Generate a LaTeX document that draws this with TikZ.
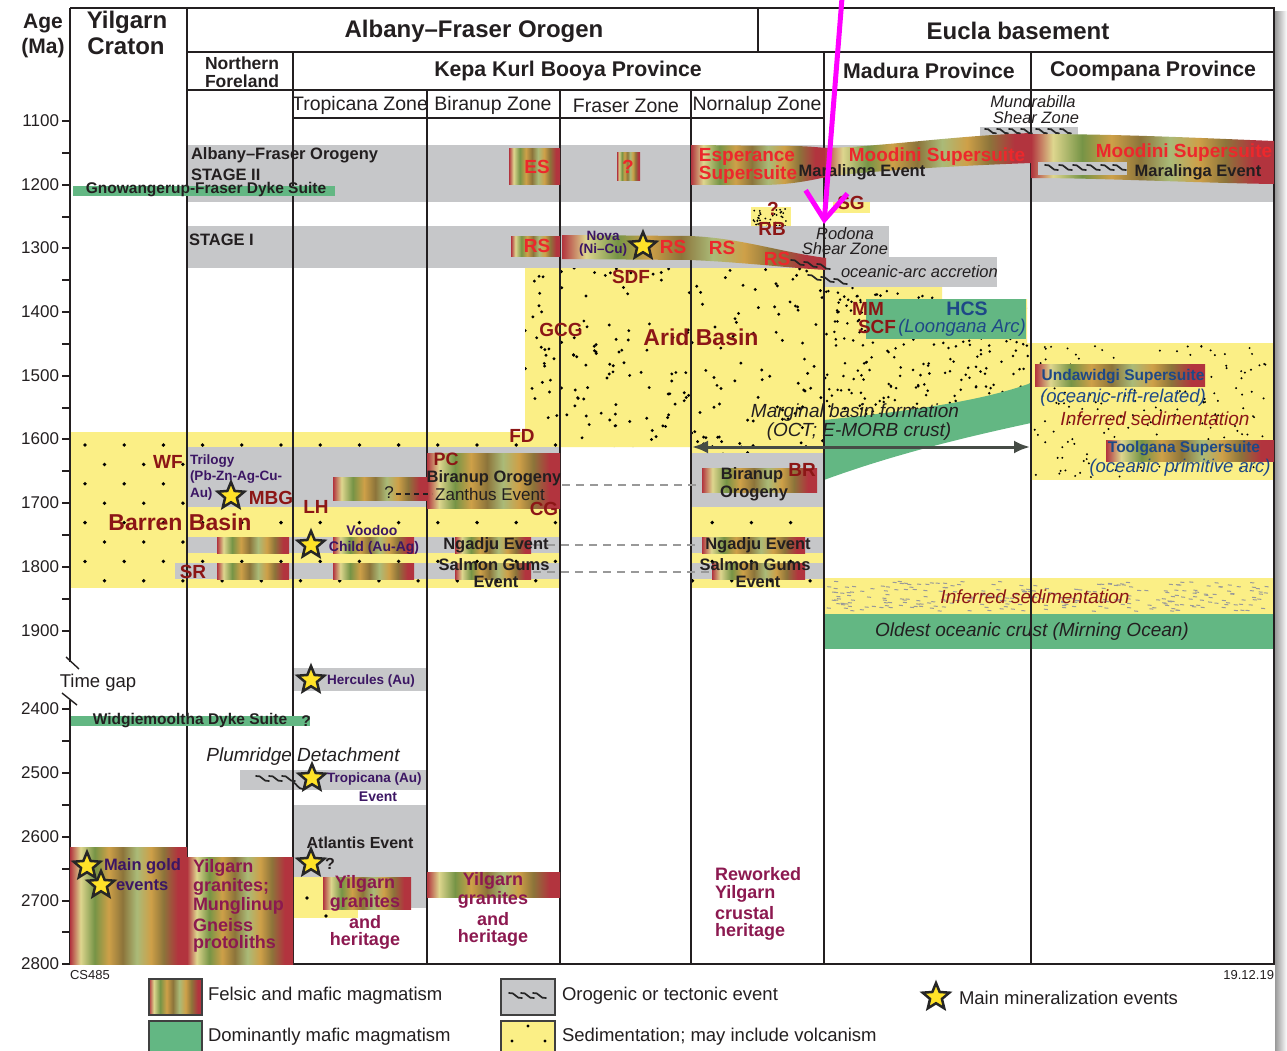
\documentclass[tikz,border=0pt]{standalone}
\usepackage{fontspec}
\setmainfont{Liberation Sans}
\usetikzlibrary{shapes.geometric,arrows.meta}
\definecolor{gfill}{RGB}{198,199,201}
\definecolor{yfill}{RGB}{251,239,134}
\definecolor{gfl}{RGB}{99,183,131}
\definecolor{dred}{RGB}{140,22,22}
\definecolor{bred}{RGB}{236,40,44}
\definecolor{purp}{RGB}{60,22,100}
\definecolor{navy}{RGB}{30,72,135}
\definecolor{maroon}{RGB}{140,25,80}
\definecolor{txt}{RGB}{35,31,32}
\definecolor{arrg}{RGB}{70,76,70}
\definecolor{stary}{RGB}{255,226,40}
\definecolor{magn}{RGB}{255,0,255}
\definecolor{mgR}{RGB}{178,52,62}
\definecolor{mgP}{RGB}{222,214,142}
\definecolor{mgG}{RGB}{118,148,70}
\definecolor{mgO}{RGB}{206,160,72}
\definecolor{mgB}{RGB}{140,116,58}
\definecolor{mgL}{RGB}{170,186,120}
\pgfdeclarehorizontalshading{magma}{100bp}{color(0bp)=(mgR); color(25bp)=(mgR); color(29.5bp)=(mgP); color(35.5bp)=(mgG); color(41.5bp)=(mgO); color(47.5bp)=(mgB); color(53.5bp)=(mgL); color(59.5bp)=(mgO); color(65bp)=(mgB); color(71bp)=(mgR); color(75bp)=(mgR); color(100bp)=(mgR)}
\newcommand\myfs[1]{\fontsize{#1}{#1}\selectfont}
\tikzset{
 every node/.style={inner sep=0pt, outer sep=0pt, text=txt},
 fb/.style={font=\bfseries\myfs{#1}},
 fr/.style={font=\myfs{#1}},
 fi/.style={font=\itshape\myfs{#1}},
 colline/.style={line width=1.4, draw=txt},
 framel/.style={line width=2, draw=txt},
 magmab/.style={shade, shading=magma},
 mstar/.style={star, star points=5, star point ratio=2.25, minimum size=28, fill=stary, draw=black!85, line width=2.5},
 dashl/.style={draw=black!40, line width=2.5, dash pattern=on 8 off 6},
 legbox/.style={draw=black!75, line width=1.6},
 pics/tw/.style={code={\draw[line width=1.7, black!85, line cap=round] (0,0) .. controls (6,-1.5) and (7,6.5) .. (13,5);}},
}
\begin{document}
\begin{tikzpicture}[x=1pt,y=-1pt]
\useasboundingbox (0,0) rectangle (1287,1051);
\fill[white] (0,0) rectangle (1287,1051);
\shade[left color=black!40, right color=white] (1275,12) rectangle (1287,1051);

% ===== sediments
\fill[yfill] (70,432) rectangle (560,588);
\fill[yfill] (691,507) rectangle (824,588);
\fill[yfill] (525,268) -- (824,268) -- (824,455) -- (691,455) -- (691,447) -- (525,447) -- cycle;
\fill[yfill] (824,287) -- (942,287) -- (942,299) -- (1027,299) -- (1027,343) -- (1031,343) -- (1031,410) -- (824,450) -- cycle;
\fill[yfill] (1031,343) rectangle (1274,480);
\fill[yfill] (824,578) rectangle (1274,614);
\fill[yfill] (751,207) rectangle (791,246);
\fill[yfill] (833,193) rectangle (870,213);

% grid dots (Barren Basin)
\begin{scope}
 \clip (70,432) rectangle (560,588) (691,507) rectangle (824,588);
 \foreach \r in {0,...,7}{
   \pgfmathsetmacro\yy{445+19.4*\r}
   \pgfmathsetmacro\xo{mod(\r,2)*19.5}
   \foreach \c in {0,...,19}{\fill (85+\xo+39.2*\c,\yy) circle (1.9);}
 }
\end{scope}
\pgfmathsetseed{4242}
\begin{scope}
 \clip (525,268) -- (824,268) -- (824,455) -- (691,455) -- (691,447) -- (525,447) -- cycle;
 \foreach \i in {1,...,200}{
   \pgfmathsetmacro\xx{525+300*rnd}\pgfmathsetmacro\yy{268+187*rnd}
   \fill (\xx,\yy) circle (1.6);}
\end{scope}
\begin{scope}
 \clip (824,287) -- (942,287) -- (942,299) -- (1027,299) -- (1027,343) -- (1031,343) -- (1031,410) -- (824,450) -- cycle;
 \foreach \i in {1,...,300}{
   \pgfmathsetmacro\xx{824+207*rnd}\pgfmathsetmacro\yy{287+165*rnd}
   \fill (\xx,\yy) circle (1.4);}
\end{scope}
\foreach \i in {1,...,160}{
   \pgfmathsetmacro\xx{1034+238*rnd}\pgfmathsetmacro\yy{346+132*rnd}
   \fill (\xx,\yy) circle (1.1);}
\foreach \i in {1,...,70}{
   \pgfmathsetmacro\xx{753+36*rnd}\pgfmathsetmacro\yy{209+35*rnd}
   \fill (\xx,\yy) circle (1.0);}
\foreach \i in {1,...,260}{
   \pgfmathsetmacro\xx{826+442*rnd}\pgfmathsetmacro\yy{581+30*rnd}
   \draw[black!40, line width=1] (\xx,\yy) -- ++(4,0.4);}

% ===== grey event bands
\fill[gfill] (187,145) rectangle (1274,202);
\fill[gfill] (187,226) rectangle (824,268);
\fill[gfill] (824,226) rectangle (889,257);
\fill[gfill] (824,257) rectangle (997,287);
\fill[gfill] (980,127) rectangle (1078,138);
\fill[gfill] (187,447) rectangle (560,507);
\fill[gfill] (187,537) rectangle (560,553);
\fill[gfill] (175,563) rectangle (560,579);
\fill[gfill] (691,453) rectangle (824,507);
\fill[gfill] (691,537) rectangle (824,553);
\fill[gfill] (691,563) rectangle (824,579);
\fill[gfill] (293,668) rectangle (427,691);
\fill[gfill] (240,770) rectangle (427,790);
\fill[gfill] (293,805) rectangle (427,908);
\fill[yfill] (293,877) rectangle (358,918);
\fill (307,898) circle (1.8);
\fill (326,916) circle (1.8);

% ===== green (mafic)
\fill[gfl] (866,299) rectangle (1026,339);
\fill[gfl] (824,420) .. controls (900,412) and (980,402) .. (1031,383) -- (1031,423) .. controls (980,434) and (900,452) .. (824,480) -- cycle;
\fill[gfl] (824,614) rectangle (1274,649);

% ===== frame and column lines
\draw[framel] (70,8) -- (1274,8) -- (1274,964) -- (70,964);
\draw[framel] (70,8) -- (70,662);
\draw[framel] (70,700) -- (70,964);
\draw[colline] (187,8) -- (187,964);
\draw[colline] (187,52) -- (1274,52);
\draw[colline] (758,8) -- (758,52);
\draw[colline] (187,90) -- (1274,90);
\draw[colline] (293,52) -- (293,964);
\draw[colline] (293,118) -- (824,118);
\foreach \xx in {427,560,691} \draw[colline] (\xx,90) -- (\xx,964);
\draw[colline] (824,52) -- (824,964);
\draw[colline] (1031,52) -- (1031,964);
\foreach \yy in {121,153,185,217,248,280,312,344,376,408,439,471,503,535,567,599,631,709,741,773,805,837,869,901,932,964}
  \draw[line width=1.4, txt] (62,\yy) -- (70,\yy);
\draw[line width=1.4, txt] (66,657) -- (79,669);
\draw[line width=1.4, txt] (62,693) -- (77,705);

% ===== magmatism
\path[magmab] (509,149) rectangle (560,185);
\path[magmab] (617,153) rectangle (640,181);
\path[magmab] (691,145) -- (790,146) .. controls (805,146) and (815,147) .. (826,148) -- (826,177) .. controls (800,183) and (780,185) .. (760,185) -- (691,185) -- cycle;
\path[magmab] (824,148) .. controls (880,147) and (950,136) .. (1031,133) -- (1031,163) .. controls (950,166) and (870,171) .. (824,177) -- cycle;
\path[magmab] (1031,134) .. controls (1120,134) and (1200,138) .. (1274,141) -- (1274,184) .. controls (1200,183) and (1100,178) .. (1031,178) -- cycle;
\fill[gfill] (1038,162) rectangle (1127,175);
\path[magmab] (511,236) rectangle (560,256);
\path[magmab] (562,235) -- (690,236) .. controls (740,238) and (780,252) .. (826,258) -- (826,270) .. controls (790,268) and (740,262) .. (690,260) -- (562,259) -- cycle;
\path[magmab] (427,453) rectangle (560,508);
\path[magmab] (333,477) rectangle (427,500);
\path[magmab] (217,537) rectangle (289,553);
\path[magmab] (217,563) rectangle (289,579);
\path[magmab] (333,537) rectangle (414,553);
\path[magmab] (333,563) rectangle (414,579);
\path[magmab] (455,537) rectangle (531,553);
\path[magmab] (455,563) rectangle (531,579);
\path[magmab] (702,468) rectangle (817,492);
\path[magmab] (702,537) rectangle (805,553);
\path[magmab] (712,563) rectangle (805,579);
\path[magmab] (1035,364) rectangle (1205,386);
\path[magmab] (1106,440) rectangle (1274,461);
\path[magmab] (70,847) rectangle (187,964);
\path[magmab] (187,857) rectangle (293,964);
\path[magmab] (323,877) rectangle (411,909);
\path[magmab] (427,872) rectangle (560,897);

% dyke suites
\fill[gfl] (73,186) rectangle (335,196);
\fill[gfl] (71,716) rectangle (310,726);

% tectonic waves
\foreach \xx in {985,997,1009,1021,1036,1048,1060} \pic[scale=0.85] at (\xx,129) {tw};
\foreach \xx in {1045,1059,1073,1087,1101,1113} \pic at (\xx,165) {tw};
\foreach \xx/\yy in {791/260,804/262,817/264,808/275,821/277,834/279} \pic at (\xx,\yy) {tw};
\foreach \xx in {256,269,282} \pic at (\xx,776) {tw};
\draw[line width=1.7, black!85, line cap=round] (293,782) .. controls (297,784) and (298,789) .. (303,789);

% ===== connectors
\draw[dashl] (562,485) -- (700,485);
\draw[dashl] (533,545) -- (700,545);
\draw[dashl] (533,572) -- (710,572);
\draw[txt, line width=1.3, dash pattern=on 5 off 4] (396,494) -- (432,494);
\coordinate (arL) at (692,447);
\coordinate (arR) at (1030,447);
\draw[arrg, line width=3, {Latex[length=16,width=13]}-{Latex[length=16,width=13]}] (arL) -- (arR);

% ===== stars
\node[mstar] (s1) at (231,496) {};
\node[mstar] (s2) at (311,545) {};
\node[mstar] (s3) at (643,246) {};
\node[mstar] (s4) at (311,680) {};
\node[mstar] (s5) at (312,778) {};
\node[mstar] (s6) at (311,863) {};
\node[mstar] (s7) at (87,866) {};
\node[mstar] (s8) at (101,885) {};

% ===== header text
\node[fb=21] (age1) at (43,24) {Age};
\node[fb=21] (age2) at (43,48) {(Ma)};
\node[fb=24] (yc1) at (127,22) {Yilgarn};
\node[fb=24] (yc2) at (126,46) {Craton};
\node[fb=24] (afo) at (474,31) {Albany–Fraser Orogen};
\node[fb=24] (eb) at (1018,31) {Eucla basement};
\node[fb=17.5] (nf1) at (242,63) {Northern};
\node[fb=17.5] (nf2) at (242,81) {Foreland};
\node[fb=21.3] (kkb) at (568,71) {Kepa Kurl Booya Province};
\node[fb=21.3] (mad) at (929,71) {Madura Province};
\node[fb=21.3] (coo) at (1153,71) {Coompana Province};
\node[fr=19.5] (z1) at (360,105) {Tropicana Zone};
\node[fr=19.5] (z2) at (493,105) {Biranup Zone};
\node[fr=19.5] (z3) at (626,106) {Fraser Zone};
\node[fr=19.5] (z4) at (757,105) {Nornalup Zone};
\foreach \lab/\yy in {1100/121,1200/185,1300/248,1400/312,1500/376,1600/439,1700/503,1800/567,1900/631,2400/709,2500/773,2600/837,2700/901,2800/964}
  \node[fr=17, anchor=east] (t\lab) at (59,\yy) {\lab};
\node[fr=18.5] (tg) at (98,683) {Time gap};

% ===== upper labels
\node[fb=16.5, anchor=west] (afoy) at (191,155) {Albany–Fraser Orogeny};
\node[fb=16.5, anchor=west] (st2) at (191,175) {STAGE II};
\node[fb=16.5, anchor=west] (st1) at (189,240) {STAGE I};
\node[fb=15.5] (gfd) at (206,190) {Gnowangerup-Fraser Dyke Suite};
\node[fb=19, text=bred] (es) at (537,167) {ES};
\node[fb=19, text=bred] (fq) at (628,167) {?};
\node[fb=19, text=bred] (esp1) at (747,157) {Esperance};
\node[fb=19, text=bred] (esp2) at (748,175) {Supersuite};
\node[fb=19, text=bred] (moo1) at (937,157) {Moodini Supersuite};
\node[fb=16.5] (mar1) at (862,172) {Maralinga Event};
\node[fb=19, text=bred] (moo2) at (1184,153) {Moodini Supersuite};
\node[fb=16.5] (mar2) at (1198,172) {Maralinga Event};
\node[fi=16.5] (mun1) at (1033,102) {Mundrabilla};
\node[fi=16.5] (mun2) at (1036,118) {Shear Zone};
\node[fb=19, text=dred] (sg) at (851,203) {SG};
\node[fb=19, text=dred] (rbq) at (773,209) {?};
\node[fb=19, text=dred] (rb) at (772,229) {RB};
\node[fi=16.5] (rod1) at (845,234) {Rodona};
\node[fi=16.5] (rod2) at (845,249) {Shear Zone};
\node[fi=16.5, anchor=west] (oaa) at (841,272) {oceanic-arc accretion};
\node[fb=19, text=bred] (rs1) at (537,246) {RS};
\node[fb=13.5, text=purp] (nova1) at (603,236) {Nova};
\node[fb=13.5, text=purp] (nova2) at (603,250) {(Ni–Cu)};
\node[fb=19, text=bred] (rs2) at (673,247) {RS};
\node[fb=19, text=bred] (rs3) at (722,248) {RS};
\node[fb=19, text=bred] (rs4) at (777,259) {RS};
\node[fb=19, text=dred] (sdf) at (631,277) {SDF};
\node[fb=19, text=dred] (gcg) at (561,330) {GCG};
\node[fb=23, text=dred] (arid) at (701,337) {Arid Basin};
\node[fb=19, text=dred] (mm) at (868,309) {MM};
\node[fb=19, text=dred] (scf) at (877,327) {SCF};
\node[fb=19.5, text=navy] (hcs) at (967,309) {HCS};
\node[fi=18.5, text=navy] (loo) at (962,328) {(Loongana Arc)};
\node[fi=19] (mbf1) at (855,413) {Marginal basin formation};
\node[fi=19] (mbf2) at (859,432) {(OCT; E-MORB crust)};
\node[fb=15.5, text=navy] (und1) at (1123,377) {Undawidgi Supersuite};
\node[fi=18.5, text=navy] (und2) at (1123,398) {(oceanic-rift-related)};
\node[fi=19, text=dred] (inf1) at (1155,419) {Inferred sedimentation};
\node[fb=15.5, text=navy] (tool1) at (1184,449) {Toolgana Supersuite};
\node[fi=18.5, text=navy] (tool2) at (1180,468) {(oceanic primitive arc)};

% ===== middle labels
\node[fb=19, text=dred] (fd) at (522,436) {FD};
\node[fb=19, text=dred] (wf) at (168,462) {WF};
\node[fb=13.5, text=purp, anchor=west] (tri1) at (190,461) {Trilogy};
\node[fb=13.5, text=purp, anchor=west] (tri2) at (190,477) {(Pb-Zn-Ag-Cu-};
\node[fb=13.5, text=purp, anchor=west] (tri3) at (190,494) {Au)};
\node[fb=19, text=dred] (mbg) at (271,498) {MBG};
\node[fb=19, text=dred] (lh) at (316,507) {LH};
\node[fb=23, text=dred] (barren) at (180,522) {Barren Basin};
\node[fb=14, text=purp] (voo1) at (372,530) {Voodoo};
\node[fb=14, text=purp] (voo2) at (374,548) {Child (Au-Ag)};
\node[fb=19, text=dred] (sr) at (193,572) {SR};
\node[fr=17] (zq) at (389,493) {?};
\node[fr=17] (zan) at (490,494) {Zanthus Event};
\node[fb=18, text=dred] (pc) at (446,459) {PC};
\node[fb=16.5] (bo) at (494,478) {Biranup Orogeny};
\node[fb=19, text=dred] (cg) at (544,509) {CG};
\node[fb=16.5] (ng1) at (496,545) {Ngadju Event};
\node[fb=16.5] (sg1) at (494,565) {Salmon Gums};
\node[fb=16.5] (sg1b) at (496,582) {Event};
\node[fb=16.5] (bo2a) at (752,475) {Biranup};
\node[fb=16.5] (bo2b) at (754,493) {Orogeny};
\node[fb=19, text=dred] (br) at (802,470) {BR};
\node[fb=16.5] (ng2) at (758,545) {Ngadju Event};
\node[fb=16.5] (sg2) at (755,565) {Salmon Gums};
\node[fb=16.5] (sg2b) at (758,582) {Event};
\node[fi=19, text=dred] (inf2) at (1035,597) {Inferred sedimentation};
\node[fi=19] (old) at (1032,632) {Oldest oceanic crust (Mirning Ocean)};

% ===== lower labels
\node[fb=13.5, text=purp, anchor=west] (her) at (327,681) {Hercules (Au)};
\node[fb=15.5] (wid) at (190,721) {Widgiemooltha Dyke Suite};
\node[fb=15.5] (widq) at (306,721) {?};
\node[fi=19] (plu) at (303,757) {Plumridge Detachment};
\node[fb=13.5, text=purp, anchor=west] (trop) at (327,779) {Tropicana (Au)};
\node[fb=14, text=purp] (tropev) at (378,797) {Event};
\node[fb=16] (atl) at (360,843) {Atlantis Event};
\node[fb=16] (atlq) at (330,864) {?};
\node[fb=16.5, text=purp, anchor=west] (mg1) at (104,866) {Main gold};
\node[fb=16.5, text=purp, anchor=west] (mg2) at (116,885) {events};
\foreach \t/\yy in {Yilgarn/868,granites;/887,Munglinup/906,Gneiss/925,protoliths/944}
  \node[fb=18, text=maroon, anchor=west] (nfg\yy) at (193,\yy) {\t};
\foreach \t/\yy in {Yilgarn/884,granites/903,and/922,heritage/941}
  \node[fb=18, text=maroon] (trg\yy) at (365,\yy) {\t};
\foreach \t/\yy in {Yilgarn/881,granites/900,and/919,heritage/938}
  \node[fb=18, text=maroon] (big\yy) at (493,\yy) {\t};
\foreach \t/\yy in {Reworked/874,Yilgarn/894,crustal/913,heritage/932}
  \node[fb=18, text=maroon, anchor=west] (nog\yy) at (715,\yy) {\t};

% ===== footer and legend
\node[fr=13, anchor=west] (cs) at (70,975) {CS485};
\node[fr=13, anchor=east] (date) at (1274,975) {19.12.19};
\path[magmab] (149,979) rectangle (202,1015);
\draw[legbox] (149,979) rectangle (202,1015);
\fill[gfl] (149,1021) rectangle (202,1058);
\draw[legbox] (149,1021) rectangle (202,1058);
\fill[gfill] (501,979) rectangle (555,1015);
\draw[legbox] (501,979) rectangle (555,1015);
\foreach \xx in {509,521,533} \pic at (\xx,993) {tw};
\fill[yfill] (501,1021) rectangle (555,1058);
\draw[legbox] (501,1021) rectangle (555,1058);
\fill (528,1026) circle (1.7);
\fill (512,1041) circle (1.7);
\fill (545,1041) circle (1.7);
\node[mstar] (ls) at (936,997) {};
\node[fr=18.5, anchor=west] (l1) at (208,996) {Felsic and mafic magmatism};
\node[fr=18.5, anchor=west] (l2) at (208,1037) {Dominantly mafic magmatism};
\node[fr=18.5, anchor=west] (l3) at (562,996) {Orogenic or tectonic event};
\node[fr=18.5, anchor=west] (l4) at (562,1037) {Sedimentation; may include volcanism};
\node[fr=18.5, anchor=west] (l5) at (959,998) {Main mineralization events};

% ===== magenta pointer
\coordinate (mgA) at (842,-2);
\coordinate (mgB) at (824,224);
\draw[magn, line width=5, -{Straight Barb[length=28,width=42]}] (mgA) -- (mgB);
\end{tikzpicture}
\end{document}
